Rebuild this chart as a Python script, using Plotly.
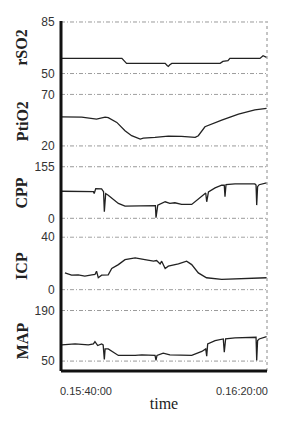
import plotly.graph_objects as go

# ---- data (time in minutes after 15:00) ----
time_ticks = [40, 80]
time_tick_labels = ["0.15:40:00", "0.16:20:00"]

rso2_t = [33.6, 49.2, 50.4, 60.3, 60.8, 61.1, 61.5, 62.0, 74.4, 75.1, 76.4, 76.9, 84.6, 85.4, 86.3]
rso2_v = [60.3, 60.3, 56.9, 56.9, 55.5, 54.9, 56.0, 56.9, 56.9, 58.2, 58.7, 60.3, 60.3, 62.1, 61.0]

ptio2_t = [33.8, 38.5, 38.9, 42.7, 44.9, 45.7, 47.9, 50.0, 51.7, 53.9, 54.7, 57.7, 61.1, 64.5, 68.0, 68.8, 70.5, 74.8, 79.1, 83.3, 86.3]
ptio2_v = [48.2, 47.5, 48.0, 46.0, 48.0, 47.5, 42.8, 34.7, 29.9, 26.7, 27.5, 28.3, 29.6, 29.3, 28.3, 29.9, 38.6, 45.0, 50.8, 54.9, 56.5]

cpp_t = [33.8, 37.2, 40.6, 41.9, 42.1, 42.5, 44.0, 44.5, 44.7, 45.05, 45.7, 48.3, 50.0, 52.6, 57.3, 57.8, 57.95, 58.2, 58.4,
         60.3, 61.5, 62.8, 64.5, 67.1, 69.7, 70.7, 70.95, 71.4, 73.1, 74.8, 75.45, 75.64, 75.9, 78.2, 83.3, 83.6, 83.77, 84.0, 84.4, 86.3]
cpp_v = [81.4, 81.0, 79.5, 80.0, 74.5, 89.4, 88.5, 80.0, 20.0, 74.5, 69.6, 44.7, 36.8, 37.5, 39.5, 38.0, 2.0, 38.0, 39.5,
         49.7, 44.7, 46.7, 41.7, 41.7, 67.6, 76.0, 49.7, 79.5, 91.4, 99.4, 99.4, 64.6, 101.0, 103.3, 103.3, 100.0, 39.7, 95.0, 101.0, 106.3]

icp_t = [34.6, 36.3, 38.0, 39.7, 41.5, 42.3, 42.7, 43.15, 44.0, 45.7, 46.6, 48.3, 50.0, 52.6, 55.1, 57.3, 58.1, 59.0, 59.4,
         60.3, 61.1, 63.7, 65.8, 67.1, 68.8, 70.9, 74.8, 79.9, 83.3, 86.3]
icp_v = [12.8, 11.1, 11.3, 10.3, 11.3, 11.6, 14.1, 9.1, 11.1, 11.3, 16.1, 19.1, 22.9, 24.2, 22.9, 21.7, 22.2, 19.6, 21.7,
         16.1, 17.9, 19.6, 21.7, 19.1, 12.8, 9.1, 7.8, 8.3, 8.6, 9.1]

map_t = [33.8, 37.2, 40.6, 41.9, 42.3, 43.0, 44.0, 44.4, 44.7, 44.9, 45.7, 48.3, 52.6, 54.3, 57.7, 57.95, 58.2, 59.8, 61.5,
         67.1, 69.7, 70.7, 70.95, 71.2, 73.1, 75.2, 75.46, 75.8, 78.2, 83.3, 83.6, 83.77, 84.0, 84.4, 86.3]
map_v = [94.7, 97.5, 94.7, 97.5, 104.0, 93.1, 97.5, 94.7, 54.6, 83.8, 83.8, 65.6, 65.6, 67.4, 65.6, 52.0, 65.6, 72.0, 67.4,
         65.6, 76.6, 83.8, 63.7, 97.5, 106.8, 111.3, 74.7, 111.3, 114.0, 117.8, 116.0, 52.0, 106.8, 111.3, 117.8]

names = ["rSO2", "PtiO2", "CPP", "ICP", "MAP"]
series_t = [rso2_t, ptio2_t, cpp_t, icp_t, map_t]
series_v = [rso2_v, ptio2_v, cpp_v, icp_v, map_v]
y_bottom = [50, 20, 0, 0, 50]
y_top = [85, 70, 155, 40, 190]

# ---- layout geometry (pixels) ----
W, H = 288, 421
ML, MR, MT, MB = 61, 21, 21, 47
PH = H - MT - MB
AX_BOTTOM = H - MB
panel_px = [(22, 74), (95, 147), (168, 220), (239, 292), (313, 364)]
label_center_px = [48, 122, 195, 268, 344]

fig = go.Figure()
layout = dict(
    width=W, height=H,
    margin=dict(l=ML, r=MR, t=MT, b=MB, pad=0),
    paper_bgcolor="white", plot_bgcolor="white",
    showlegend=False,
    font=dict(family="Liberation Sans, Arial, sans-serif", size=11, color="#333"),
)
shapes = []
annotations = []

for i in range(5):
    ax = "y" if i == 0 else f"y{i+1}"
    axname = "yaxis" if i == 0 else f"yaxis{i+1}"
    pt, pb = panel_px[i]
    h = pb - pt
    span = y_top[i] - y_bottom[i]
    rng = [y_bottom[i] - span / h, y_top[i] + span / h]
    dom = [(AX_BOTTOM - pb - 1) / PH, min(1.0, (AX_BOTTOM - pt + 1) / PH)]
    layout[axname] = dict(
        domain=dom, range=rng, anchor="x",
        tickvals=[y_bottom[i], y_top[i]],
        ticks="outside", ticklen=3, tickcolor="rgba(0,0,0,0)",
        showgrid=False, zeroline=False, showline=False,
        tickfont=dict(family="Liberation Sans, Arial, sans-serif", size=12, color="#333"),
        fixedrange=True,
    )
    fig.add_trace(go.Scatter(
        x=series_t[i], y=series_v[i], mode="lines", yaxis=ax, xaxis="x",
        line=dict(color="#222", width=1.3), hoverinfo="skip",
    ))
    for v in (y_bottom[i], y_top[i]):
        shapes.append(dict(type="line", xref="x domain", yref=ax, x0=0, x1=1, y0=v, y1=v,
                           line=dict(color="#9a9a9a", width=1, dash="4px,2px,1px,2px"), layer="below"))
    annotations.append(dict(
        text="<b>" + names[i] + "</b>", xref="paper", yref="paper",
        x=(22 - ML) / (W - ML - MR), y=(AX_BOTTOM - label_center_px[i]) / PH,
        xanchor="center", yanchor="middle", textangle=-90, showarrow=False,
        font=dict(family="Liberation Serif, Times New Roman, serif", size=16, color="#222"),
    ))

layout["xaxis"] = dict(
    domain=[0, 1], range=[33.59, 86.41], anchor="free", position=0,
    tickvals=time_ticks, ticktext=time_tick_labels,
    ticks="outside", ticklen=10, tickcolor="rgba(0,0,0,0)",
    showgrid=False, zeroline=False, showline=False,
    tickfont=dict(family="Liberation Sans, Arial, sans-serif", size=11, color="#333"),
    title=dict(text="time", standoff=1,
               font=dict(family="Liberation Serif, Times New Roman, serif", size=16, color="#222")),
    fixedrange=True,
)

# frame
shapes.append(dict(type="line", xref="paper", yref="paper", x0=1, x1=1, y0=0, y1=1,
                   line=dict(color="#8a8a8a", width=1, dash="dot")))
shapes.append(dict(type="line", xref="paper", yref="paper", x0=0, x1=0, y0=0, y1=1,
                   line=dict(color="#111", width=3)))
shapes.append(dict(type="line", xref="paper", yref="paper", x0=0, x1=1, y0=0, y1=0,
                   line=dict(color="#111", width=3)))

layout["shapes"] = shapes
layout["annotations"] = annotations
fig.update_layout(**layout)
fig.write_html("out.html")
